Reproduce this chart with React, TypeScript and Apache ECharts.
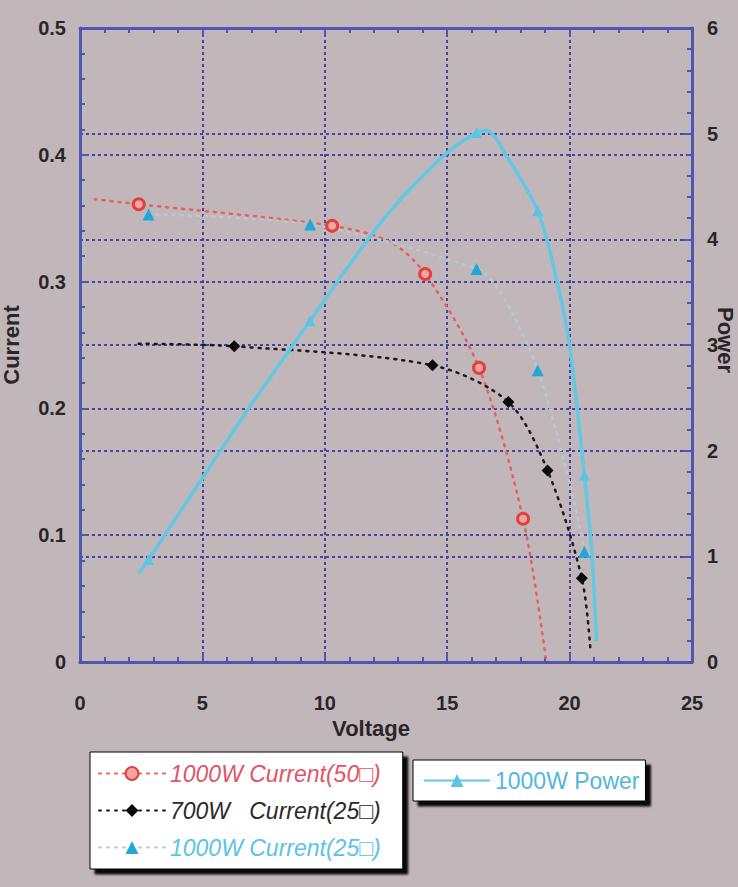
import React, { useEffect, useRef } from "react";
import * as echarts from "echarts";

const NAME_RED = "1000W Current(50□)";
const NAME_BLACK = "700W   Current(25□)";
const NAME_BLUE = "1000W Current(25□)";
const NAME_POWER = "1000W Power";
const POWER_AXIS_TITLE = "Power";

// 1000W current at 50° : measured points (markers)
const red50V = [2.4, 10.3, 14.1, 16.3, 18.1];
const red50I = [0.361, 0.344, 0.306, 0.232, 0.113];
// fitted dotted curve, extra points (no marker)
const red50FitV = [0.6, 12.7, 19.05];
const red50FitI = [0.365, 0.331, 0.0];

// 700W current at 25°
const black25V = [6.3, 14.4, 17.5, 19.1, 20.5];
const black25I = [0.249, 0.234, 0.205, 0.151, 0.066];
const black25FitV = [2.4, 20.85];
const black25FitI = [0.251, 0.01];

// 1000W current at 25°
const blue25V = [2.8, 9.4, 16.2, 18.7, 20.6];
const blue25I = [0.353, 0.345, 0.31, 0.23, 0.087];
const blue25FitV = [17.2, 20.2];
const blue25FitI = [0.291, 0.125];

// 1000W power (right axis)
const powerV = [2.8, 9.4, 16.2, 18.7, 20.6];
const powerP = [0.97, 3.23, 5.01, 4.27, 1.77];
const powerFitV = [2.4, 6.95, 11.7, 13.1, 15.0, 16.6, 17.5, 19.4, 20.0, 20.9, 21.1];
const powerFitP = [0.84, 2.42, 3.98, 4.38, 4.82, 5.03, 4.76, 3.69, 2.99, 1.06, 0.2];

const X_MIN = 0, X_MAX = 25, X_STEP = 5;
const I_MIN = 0, I_MAX = 0.5, I_STEP = 0.1;
const P_MIN = 0, P_MAX = 6, P_STEP = 1;

function build(mv: number[], mi: number[], fv: number[], fi: number[]) {
  const pts: any[] = [];
  mv.forEach((v, k) => pts.push({ value: [v, mi[k]] }));
  fv.forEach((v, k) => pts.push({ value: [v, fi[k]], symbol: "none" }));
  pts.sort((a, b) => a.value[0] - b.value[0]);
  return pts;
}

const AXIS_COLOR = "#4d57b2";
const GRID_COLOR = "#4a44a0";
const LABEL_COLOR = "#2a2628";
const FONT = "Liberation Sans, Arial, sans-serif";

export default function App() {
  const ref = useRef<HTMLDivElement>(null);
  useEffect(() => {
    if (!ref.current) return;
    const chart = echarts.init(ref.current, undefined, { renderer: "svg" });
    const splitLine = { show: true, lineStyle: { color: GRID_COLOR, type: [3, 3], width: 2 } };
    const axisLine = { show: true, onZero: false, lineStyle: { color: AXIS_COLOR, width: 3 } };
    const axisTick = { show: true, inside: true, length: 9, lineStyle: { color: AXIS_COLOR, width: 2 } };
    const minorTick = { show: true, splitNumber: 5, length: 5, lineStyle: { color: AXIS_COLOR, width: 2 } };
    const axisLabel = { color: LABEL_COLOR, fontSize: 20, fontWeight: "bold", fontFamily: FONT };
    const nameStyle = { color: LABEL_COLOR, fontSize: 22, fontWeight: "bold", fontFamily: FONT };
    const legendBox = {
      backgroundColor: "#ffffff",
      borderColor: "#000000",
      borderWidth: 1,
      shadowColor: "rgba(0,0,0,0.95)",
      shadowOffsetX: 5,
      shadowOffsetY: 5,
      shadowBlur: 2,
      itemWidth: 66,
      itemHeight: 16,
      textStyle: { fontSize: 23, fontFamily: FONT },
    };
    chart.setOption({
      animation: false,
      backgroundColor: "#c1b7ba",
      grid: { left: 80, right: 46, top: 28, bottom: 225, containLabel: false, outerBoundsMode: "none" },
      graphic: [
        {
          type: "text", x: 725, y: 340, rotation: -Math.PI / 2,
          style: {
            text: POWER_AXIS_TITLE, align: "center", verticalAlign: "middle",
            fill: LABEL_COLOR, font: `bold 22px ${FONT}`,
          },
        },
      ],
      xAxis: [
        {
          type: "value", min: X_MIN, max: X_MAX, interval: X_STEP, position: "bottom",
          name: "Voltage", nameLocation: "middle", nameGap: 43,
          nameTextStyle: { ...nameStyle, padding: [0, 30, 0, 0] },
          axisLine, axisTick, minorTick,
          axisLabel: { ...axisLabel, margin: 31 },
          splitLine,
        },
        {
          type: "value", min: X_MIN, max: X_MAX, interval: X_STEP, position: "top",
          axisLine, axisTick, minorTick,
          axisLabel: { show: false }, splitLine: { show: false },
        },
      ],
      yAxis: [
        {
          type: "value", min: I_MIN, max: I_MAX, interval: I_STEP, position: "left",
          name: "Current", nameLocation: "middle", nameGap: 58, nameTextStyle: nameStyle,
          axisLine, axisTick, minorTick,
          axisLabel: { ...axisLabel, margin: 14 },
          splitLine,
        },
        {
          type: "value", min: P_MIN, max: P_MAX, interval: P_STEP, position: "right",
          axisLine, axisTick, minorTick,
          axisLabel: { ...axisLabel, margin: 15 },
          splitLine,
        },
      ],
      legend: [
        {
          ...legendBox,
          orient: "vertical", left: 90, top: 752,
          padding: [10, 22, 10, 8], itemGap: 14,
          data: [
            { name: NAME_RED, textStyle: { color: "#e05566", fontStyle: "italic" } },
            { name: NAME_BLACK, textStyle: { color: "#2a2a2a", fontStyle: "italic" } },
            { name: NAME_BLUE, textStyle: { color: "#5cc2e6", fontStyle: "italic" } },
          ],
        },
        {
          ...legendBox,
          orient: "horizontal", left: 413, top: 760,
          padding: [9, 6, 9, 10],
          data: [{ name: NAME_POWER, textStyle: { color: "#52b6dc" } }],
        },
      ],
      series: [
        {
          name: NAME_RED, type: "line", xAxisIndex: 0, yAxisIndex: 0,
          data: build(red50V, red50I, red50FitV, red50FitI),
          smooth: 0.3,
          symbol: "circle", symbolSize: 11,
          itemStyle: { color: "#f2a6a4", borderColor: "#e2403f", borderWidth: 3 },
          lineStyle: { color: "#e8605e", width: 2.5, type: [2, 6], cap: "round" },
          z: 3,
        },
        {
          name: NAME_BLACK, type: "line", xAxisIndex: 0, yAxisIndex: 0,
          data: build(black25V, black25I, black25FitV, black25FitI),
          smooth: 0.3,
          symbol: "diamond", symbolSize: 12,
          itemStyle: { color: "#0a0a0a" },
          lineStyle: { color: "#1a1a1a", width: 2.5, type: [2, 6], cap: "round" },
          z: 3,
        },
        {
          name: NAME_BLUE, type: "line", xAxisIndex: 0, yAxisIndex: 0,
          data: build(blue25V, blue25I, blue25FitV, blue25FitI),
          smooth: 0.3,
          symbol: "triangle", symbolSize: 12,
          itemStyle: { color: "#1fa8d8" },
          lineStyle: { color: "#b8c9d0", width: 2.5, type: [2, 6], cap: "round" },
          z: 3,
        },
        {
          name: NAME_POWER, type: "line", xAxisIndex: 0, yAxisIndex: 1,
          data: build(powerV, powerP, powerFitV, powerFitP),
          smooth: 0.3,
          symbol: "triangle", symbolSize: 11,
          itemStyle: { color: "#5cc4e2" },
          lineStyle: { color: "#62c8e3", width: 3.5 },
          z: 4,
        },
      ],
    });
    return () => chart.dispose();
  }, []);
  return (
    <div
      ref={ref}
      style={{ position: "fixed", left: 0, top: 0, width: 738, height: 887, background: "#c1b7ba" }}
    />
  );
}
